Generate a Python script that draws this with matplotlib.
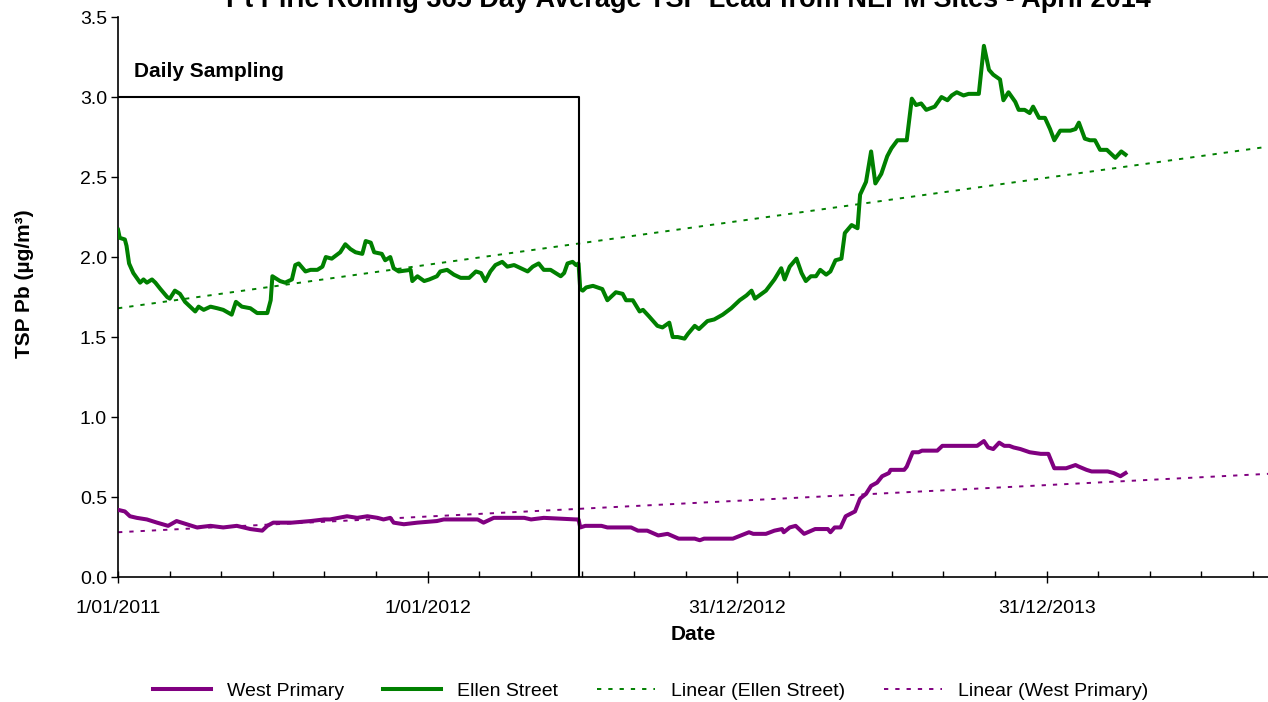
import pandas as pd
import matplotlib
matplotlib.use('Agg')
import matplotlib.pyplot as plt
from matplotlib.ticker import FixedLocator, MultipleLocator, FuncFormatter

plt.rcParams['font.family'] = ['Liberation Sans', 'DejaVu Sans']

START = pd.Timestamp('2011-01-01')

# rolling 365 day average, days counted from 1/01/2011
ellen_day = [0, 2, 8, 10, 13, 18, 26, 30, 34, 40, 44, 50, 58, 61, 67, 73, 79, 85, 91, 95,
             101, 109, 117, 124, 134, 139, 146, 156, 164, 176, 180, 182, 185, 191, 197, 205,
             209, 213, 221, 227, 235, 241, 245, 252, 262, 268, 274, 280, 288, 292, 298, 302,
             311, 315, 321, 325, 331, 345, 347, 353, 361, 367, 376, 380, 388, 396, 404, 414,
             422, 428, 433, 439, 445, 453, 459, 467, 475, 483, 489, 496, 502, 510, 516, 522,
             526, 530, 536, 540, 543, 545, 548, 552, 560, 571, 577, 587, 595, 599, 607, 615,
             619, 626, 636, 642, 650, 654, 660, 668, 672, 680, 685, 695, 703, 713, 723, 733,
             741, 747, 751, 764, 774, 782, 786, 792, 800, 806, 811, 817, 823, 828, 835, 840,
             846, 853, 857, 865, 872, 875, 882, 888, 893, 900, 907, 912, 919, 930, 936, 941,
             947, 953, 963, 971, 978, 983, 989, 997, 1003, 1015, 1021, 1027, 1032, 1040, 1044,
             1050, 1058, 1062, 1069, 1075, 1079, 1086, 1093, 1099, 1104, 1111, 1123, 1129,
             1133, 1140, 1146, 1152, 1158, 1166, 1176, 1183, 1188]
ellen_pb = [2.17, 2.12, 2.11, 2.07, 1.96, 1.90, 1.84, 1.86, 1.84, 1.86, 1.84, 1.80, 1.75, 1.74,
            1.79, 1.77, 1.72, 1.69, 1.66, 1.69, 1.67, 1.69, 1.68, 1.67, 1.64, 1.72, 1.69, 1.68,
            1.65, 1.65, 1.73, 1.88, 1.87, 1.85, 1.84, 1.86, 1.95, 1.96, 1.91, 1.92, 1.92, 1.94,
            2.00, 1.99, 2.03, 2.08, 2.05, 2.03, 2.02, 2.10, 2.09, 2.03, 2.02, 1.98, 2.00, 1.93,
            1.91, 1.92, 1.85, 1.88, 1.85, 1.86, 1.88, 1.91, 1.92, 1.89, 1.87, 1.87, 1.91, 1.90,
            1.85, 1.91, 1.95, 1.97, 1.94, 1.95, 1.93, 1.91, 1.94, 1.96, 1.92, 1.92, 1.90, 1.88,
            1.90, 1.96, 1.97, 1.95, 1.96, 1.80, 1.79, 1.81, 1.82, 1.80, 1.73, 1.78, 1.77, 1.73,
            1.73, 1.66, 1.67, 1.63, 1.57, 1.56, 1.59, 1.50, 1.50, 1.49, 1.52, 1.57, 1.55, 1.60,
            1.61, 1.64, 1.68, 1.73, 1.76, 1.79, 1.74, 1.79, 1.86, 1.93, 1.86, 1.94, 1.99, 1.90,
            1.85, 1.88, 1.88, 1.92, 1.89, 1.91, 1.98, 1.99, 2.15, 2.20, 2.18, 2.39, 2.47, 2.66,
            2.46, 2.52, 2.63, 2.68, 2.73, 2.73, 2.99, 2.95, 2.96, 2.92, 2.94, 3.00, 2.98, 3.01,
            3.03, 3.01, 3.02, 3.02, 3.32, 3.17, 3.14, 3.11, 2.98, 3.03, 2.97, 2.92, 2.92, 2.90,
            2.94, 2.87, 2.87, 2.80, 2.73, 2.79, 2.79, 2.80, 2.84, 2.74, 2.73, 2.73, 2.67, 2.67,
            2.62, 2.66, 2.64]

west_day = [0, 8, 14, 22, 34, 46, 59, 69, 81, 93, 109, 124, 140, 156, 170, 176, 183, 205, 227,
            243, 250, 270, 282, 294, 306, 313, 321, 325, 337, 353, 376, 384, 424, 431, 443, 479,
            487, 502, 540, 543, 545, 551, 570, 577, 605, 613, 624, 637, 648, 661, 680, 686, 691,
            725, 744, 749, 764, 774, 783, 785, 792, 799, 809, 822, 837, 840, 845, 852, 858, 869,
            875, 882, 888, 895, 901, 909, 911, 927, 930, 937, 944, 948, 966, 972, 1013, 1021,
            1026, 1032, 1039, 1045, 1051, 1056, 1064, 1075, 1088, 1097, 1104, 1118, 1129, 1133,
            1142, 1148, 1157, 1167, 1174, 1182, 1188]
west_pb = [0.42, 0.41, 0.38, 0.37, 0.36, 0.34, 0.32, 0.35, 0.33, 0.31, 0.32, 0.31, 0.32, 0.30,
           0.29, 0.32, 0.34, 0.34, 0.35, 0.36, 0.36, 0.38, 0.37, 0.38, 0.37, 0.36, 0.37, 0.34,
           0.33, 0.34, 0.35, 0.36, 0.36, 0.34, 0.37, 0.37, 0.36, 0.37, 0.36, 0.36, 0.31, 0.32,
           0.32, 0.31, 0.31, 0.29, 0.29, 0.26, 0.27, 0.24, 0.24, 0.23, 0.24, 0.24, 0.28, 0.27,
           0.27, 0.29, 0.30, 0.28, 0.31, 0.32, 0.27, 0.30, 0.30, 0.28, 0.31, 0.31, 0.38, 0.41,
           0.49, 0.52, 0.57, 0.59, 0.63, 0.65, 0.67, 0.67, 0.69, 0.78, 0.78, 0.79, 0.79, 0.82,
           0.82, 0.85, 0.81, 0.80, 0.84, 0.82, 0.82, 0.81, 0.80, 0.78, 0.77, 0.77, 0.68, 0.68,
           0.70, 0.69, 0.67, 0.66, 0.66, 0.66, 0.65, 0.63, 0.65]

# linear trends, start of axis and forecast to end of axis
trend_day = [0, 1356]
ellen_trend = [1.68, 2.69]
west_trend = [0.28, 0.645]

# daily sampling period ended late June 2012
daily_end = 544
daily_top = 3.0

fig = plt.figure(figsize=(12.68, 7.02), dpi=100)
ax = fig.add_axes([0.0931, 0.178, 0.9069, 0.7977])

ax.plot(west_day, west_pb, color='#800080', lw=2.9, label='West Primary', zorder=3)
ax.plot(ellen_day, ellen_pb, color='#008000', lw=2.9, label='Ellen Street', zorder=4)
ax.plot(trend_day, ellen_trend, color='#008000', lw=1.4, linestyle=(0, (2.2, 3.6)),
        label='Linear (Ellen Street)', zorder=2)
ax.plot(trend_day, west_trend, color='#800080', lw=1.4, linestyle=(0, (2.2, 3.6)),
        label='Linear (West Primary)', zorder=2)

# box round the daily sampling period
ax.plot([0, daily_end, daily_end], [daily_top, daily_top, 0], color='black', lw=1.5, zorder=5)
ax.text(19, 3.16, 'Daily Sampling', fontsize=15, fontweight='bold', va='center')

ax.set_xlim(0, 1356)
ax.set_ylim(0, 3.5)

def day_label(x, pos):
    d = START + pd.Timedelta(days=int(round(x)))
    return f'{d.day}/{d.month:02d}/{d.year}'

ax.xaxis.set_major_locator(FixedLocator([0, 365, 730, 1095]))
ax.xaxis.set_minor_locator(FixedLocator([i * 365 / 6 for i in range(23)]))
ax.xaxis.set_major_formatter(FuncFormatter(day_label))
ax.yaxis.set_major_locator(MultipleLocator(0.5))
ax.yaxis.set_major_formatter(FuncFormatter(lambda v, p: f'{v:.1f}'))

ax.tick_params(axis='x', which='major', direction='inout', length=9, width=1, labelsize=14, pad=12)
ax.tick_params(axis='x', which='minor', direction='in', length=4, width=1)
ax.tick_params(axis='y', which='major', direction='out', length=5, width=1, labelsize=14, pad=3)

ax.spines['top'].set_visible(False)
ax.spines['right'].set_visible(False)
ax.spines['left'].set_linewidth(1.2)
ax.spines['bottom'].set_linewidth(1.2)

ax.set_xlabel('Date', fontsize=15, fontweight='bold', labelpad=6)
fig.text(0.019, 0.596, 'TSP Pb (µg/m³)', rotation=90, fontsize=15, fontweight='bold',
         ha='center', va='center')

fig.text(0.543, 0.9905, 'Pt Pirie Rolling 365 Day Average TSP Lead from NEPM Sites - April 2014',
         fontsize=19.5, fontweight='bold', ha='center', va='baseline')

fig.legend(loc='center', bbox_to_anchor=(0.513, 0.0157), ncol=4, frameon=False, fontsize=14,
           handlelength=3.0, handletextpad=0.8, columnspacing=2.0)

plt.savefig('out.png', dpi=100)
